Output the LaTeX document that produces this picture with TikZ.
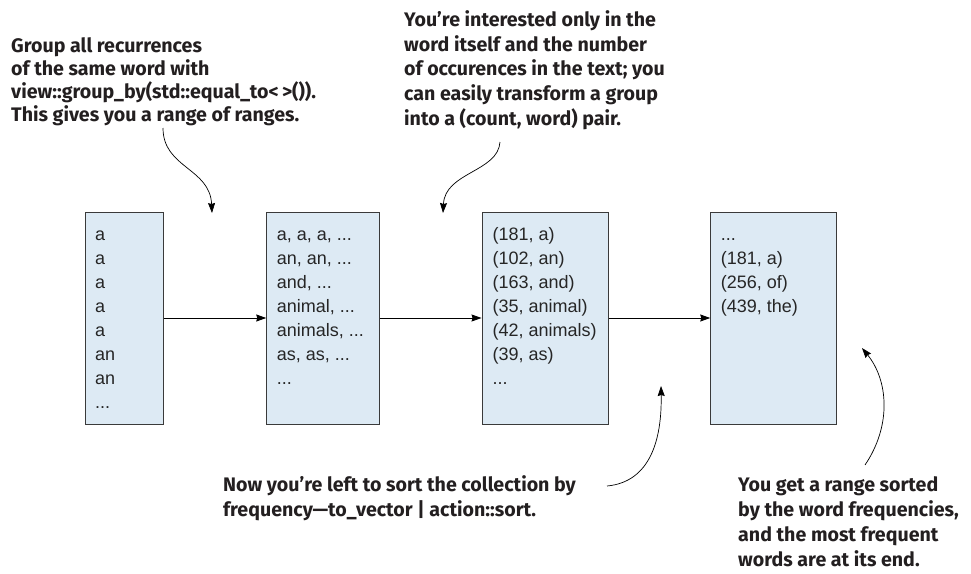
\documentclass[tikz,border=0pt]{standalone}
\usepackage{fontspec}
\setmainfont{Liberation Sans}
\newfontfamily\annfont{Fira Sans}
\usetikzlibrary{arrows.meta}
\definecolor{boxfill}{HTML}{DDEAF4}
\definecolor{boxline}{HTML}{3A3A3A}
\definecolor{anntext}{HTML}{231F20}
\tikzset{
  listbox/.style={draw=boxline, fill=boxfill, line width=0.9pt, inner sep=0pt},
  listtext/.style={anchor=base west, align=left, inner sep=0pt,
    font=\fontsize{18}{24}\selectfont, text=black!85},
  ann/.style={anchor=base west, align=left, inner sep=0pt, text=anntext},
  flow/.style={line width=0.9pt, -{Stealth[length=10pt,width=7pt,inset=1pt]}},
  curve/.style={line width=0.7pt, -{Stealth[length=10pt,width=7pt,inset=1pt]}}
}
\begin{document}
\begin{tikzpicture}[x=1pt,y=-1pt]
\useasboundingbox (0,0) rectangle (971,573);
% boxes
\node[listbox, minimum width=78.7pt, minimum height=212pt] (b1) at (124.35,318) {};
\node[listbox, minimum width=112.6pt, minimum height=212pt] (b2) at (323,318) {};
\node[listbox, minimum width=126.3pt, minimum height=212pt] (b3) at (545.15,318) {};
\node[listbox, minimum width=126pt, minimum height=212pt] (b4) at (773.7,318) {};
% box contents (anchored at the baseline of the last line)
\node[listtext] (l1) at (95,408.5) {a\\a\\a\\a\\a\\an\\an\\...};
\node[listtext] (l2) at (276.7,384.5) {a, a, a, ...\\an, an, ...\\and, ...\\animal, ...\\animals, ...\\as, as, ...\\...};
\node[listtext] (l3) at (492.5,384.5) {(181, a)\\(102, an)\\(163, and)\\(35, animal)\\(42, animals)\\(39, as)\\...};
\node[listtext] (l4) at (720.7,312.5) {...\\(181, a)\\(256, of)\\(439, the)};
% flow arrows
\draw[flow] (b1.east) -- (b2.west);
\draw[flow] (b2.east) -- (b3.west);
\draw[flow] (b3.east) -- (b4.west);
% annotations (anchored at the baseline of the last line)
\node[ann, font=\annfont\bfseries\fontsize{19.6}{23.3}\selectfont] (t1) at (11,121.9)
  {Group all recurrences\\of the same word with\\view::group\_by(std::equal\_to<\,>()).\\This gives you a range of ranges.};
\node[ann, font=\annfont\bfseries\fontsize{19.6}{24.6}\selectfont] (t2) at (404,125.1)
  {You’re interested only in the\\word itself and the number\\of occurences in the text; you\\can easily transform a group\\into a (count, word) pair.};
\node[ann, font=\annfont\bfseries\fontsize{19.6}{25}\selectfont] (t3) at (223,516.5)
  {Now you’re left to sort the collection by\\frequency—to\_vector | action::sort.};
\node[ann, font=\annfont\bfseries\fontsize{19.6}{25}\selectfont] (t4) at (738,566)
  {You get a range sorted\\by the word frequencies,\\and the most frequent\\words are at its end.};
% curved pointers
\coordinate (c1s) at (163,128);
\coordinate (c1e) at (212,213);
\draw[curve] (c1s) .. controls (163,168) and (210,168) .. (c1e);
\coordinate (c2s) at (500,142);
\coordinate (c2e) at (443,213);
\coordinate (c3s) at (607,486);
\coordinate (c3e) at (661,386);
\coordinate (c4s) at (865,465);
\coordinate (c4e) at (862,348);
\draw[curve] (c2s) .. controls (498,172) and (445,172) .. (c2e);
\draw[curve] (c3s) .. controls (650,482) and (662,440) .. (c3e);
\draw[curve] (c4s) .. controls (892,425) and (888,380) .. (c4e);
\end{tikzpicture}
\end{document}
